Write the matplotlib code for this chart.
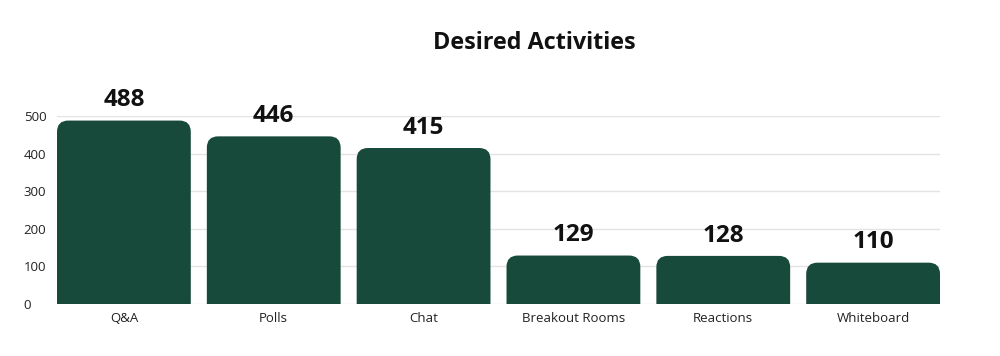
import matplotlib
matplotlib.use('Agg')
import matplotlib.pyplot as plt
from matplotlib.patches import FancyBboxPatch

plt.rcParams['font.family'] = ['Open Sans', 'DejaVu Sans']

# 数据
categories = ['Q&A', 'Polls', 'Chat', 'Breakout Rooms', 'Reactions', 'Whiteboard']
values = [488, 446, 415, 129, 128, 110]
yticks = [0, 100, 200, 300, 400, 500]

BAR_COLOR = '#174a3a'
GRID_COLOR = '#e3e3e3'
BAR_W = 0.893

fig = plt.figure(figsize=(10, 3.56), dpi=100)
ax = fig.add_axes([0.057, 0.146, 0.883, 0.528])

x = list(range(len(categories)))
bars = ax.bar(x, values, width=BAR_W, color=BAR_COLOR)

# 圆角顶部：用 FancyBboxPatch 替换，底部延伸到 0 以下被裁掉
for b in bars:
    b.set_visible(False)
    bx, bw, bh = b.get_x(), b.get_width(), b.get_height()
    patch = FancyBboxPatch((bx, -40), bw, bh + 40,
                           boxstyle='round,pad=0,rounding_size=0.075',
                           mutation_aspect=400,
                           facecolor=BAR_COLOR, edgecolor='none', zorder=3)
    ax.add_patch(patch)

for xi, v in zip(x, values):
    ax.text(xi, v + 22, str(v), ha='center', va='bottom', fontsize=17.5,
            fontweight='bold', color='#111111', clip_on=False)

ax.set_xlim(-BAR_W / 2, len(categories) - 1 + BAR_W / 2)
ax.set_ylim(0, 500)
ax.set_yticks(yticks)
ax.set_xticks(x)
ax.set_xticklabels(categories)
ax.tick_params(axis='both', length=0, labelsize=9.5, colors='#222222')
ax.tick_params(axis='x', pad=6)
ax.tick_params(axis='y', pad=24)
for lbl in ax.get_yticklabels():
    lbl.set_horizontalalignment('left')

for s in ax.spines.values():
    s.set_visible(False)
ax.grid(axis='y', color=GRID_COLOR, linewidth=1)
ax.set_axisbelow(True)

fig.text(0.534, 0.878, 'Desired Activities', ha='center', va='center',
         fontsize=16.8, fontweight='bold', color='#111111')

fig.savefig('out.png', facecolor='white')
